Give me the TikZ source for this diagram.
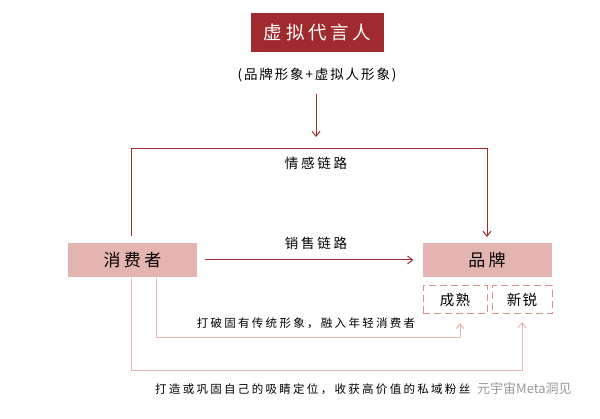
\documentclass[tikz,border=0pt]{standalone}
\usepackage{fontspec}
\newfontfamily\cjk[LetterSpace=20]{Noto Sans CJK SC}
\newfontfamily\cjkn[LetterSpace=8]{Noto Sans CJK SC}
\newfontfamily\cjkm[LetterSpace=14]{Noto Sans CJK SC}
\usetikzlibrary{arrows.meta}
\definecolor{dred}{HTML}{A02B2E}
\definecolor{pinkfill}{HTML}{E4B4B1}
\definecolor{dashc}{HTML}{D9908E}
\definecolor{pinkline}{HTML}{E8B6B4}
\tikzset{
  redline/.style={draw=dred, line width=1pt},
  pinkln/.style={draw=pinkline, line width=1pt},
  redarrow/.style={redline, -{Straight Barb[length=5pt,width=8pt]}},
  pinkarrow/.style={pinkln, -{Straight Barb[length=5pt,width=8pt]}},
  mainbox/.style={fill=pinkfill, minimum width=129pt, minimum height=34pt, inner sep=0pt, font=\cjk\fontsize{17}{17}\selectfont},
  subbox/.style={draw=dashc, dash pattern=on 7pt off 4pt, line width=1pt, minimum height=28pt, inner sep=0pt, font=\cjkn\fontsize{14.5}{15}\selectfont},
  lbl/.style={inner sep=0pt, font=\cjk\fontsize{13.5}{14}\selectfont},
  small/.style={inner sep=0pt, font=\cjk\fontsize{11.5}{12}\selectfont}
}
\begin{document}
\begin{tikzpicture}[x=1pt,y=-1pt]
\useasboundingbox[fill=white] (0,0) rectangle (600,419);
% title
\node[fill=dred, text=white, minimum width=133pt, minimum height=39pt, inner sep=0pt,
  font=\cjk\fontsize{18.5}{19}\selectfont] (title) at (317.5,32.5) {虚拟代言人};
\node[inner sep=0pt, font=\cjkm\fontsize{13.5}{14}\selectfont] (sub) at (317,75) {(品牌形象+虚拟人形象)};
\coordinate (subEnd) at (316,137);
\draw[redarrow] (316,94) -- (subEnd);
% main boxes
\node[mainbox] (cons) at (132.5,260) {消费者};
\node[mainbox] (brand) at (487,260) {品牌};
\node[subbox, minimum width=64pt] (mat) at (455,300) {成熟};
\node[subbox, minimum width=60pt] (new) at (522,300) {新锐};
% emotion loop
\coordinate (loopY) at (0,149);
\coordinate (loopStart) at (131,236);
\coordinate (loopEnd) at (487,237);
\draw[redarrow] (loopStart) -- (loopStart |- loopY) -- (loopEnd |- loopY) -- (loopEnd);
\node[lbl] (emo) at (316,163) {情感链路};
% sales arrow
\draw[redarrow] ([xshift=8pt]cons.east) -- ([xshift=-9pt]brand.west);
\node[lbl] (sales) at (316,243) {销售链路};
% pink lower lines
\coordinate (inA) at (156,278);
\coordinate (inB) at (460,338);
\coordinate (inTip) at (460,323);
\draw[pinkarrow] (inA) |- (inB) -- (inTip);
\coordinate (outA) at (131,278);
\coordinate (outB) at (522,371);
\coordinate (outTip) at (522,322);
\draw[pinkarrow] (outA) |- (outB) -- (outTip);
\node[small] (t1) at (306,323) {打破固有传统形象，融入年轻消费者};
\node[small, anchor=west] (t2) at (155,389) {打造或巩固自己的吸睛定位，收获高价值的私域粉丝};
% watermark
\node[inner sep=1pt, anchor=west, text=gray!80, font=\fontspec{Noto Sans CJK SC}\fontsize{13}{13}\selectfont, fill=white, fill opacity=0.7, text opacity=1] (wm) at (476,389) {元宇宙Meta洞见};
\end{tikzpicture}
\end{document}
